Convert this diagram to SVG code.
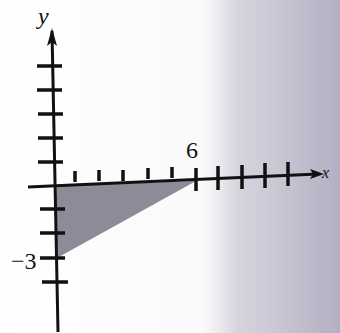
<svg xmlns="http://www.w3.org/2000/svg" width="340" height="333" viewBox="0 0 340 333">
<defs>
<linearGradient id="bg" x1="0" y1="0" x2="1" y2="0">
<stop offset="0" stop-color="#ffffff"/>
<stop offset="0.6" stop-color="#fafafb"/>
<stop offset="0.7" stop-color="#d6d5de"/>
<stop offset="1" stop-color="#b2b0c2"/>
</linearGradient>
<style>
.ax{stroke:#111;stroke-width:3;fill:none}
.tk{stroke:#111;stroke-width:3.5}
.lbl{font-family:"Liberation Serif",serif;fill:#111}
</style>
</defs>
<rect width="340" height="333" fill="url(#bg)"/>
<g id="region">
<polygon points="55,186 196,181 57,258" fill="#8e8b99"/>
</g>
<g id="axes">
<path class="ax" d="M58,332 L52,31"/>
<path d="M52,28 L47,46 L52,42 L57,46 Z" fill="#111"/>
<path class="ax" d="M28,187 L318,174"/>
<path d="M324,174 L310,169 L313,174 L310,179 Z" fill="#111"/>
</g>
<g id="ticks">
<path class="tk" d="M37,66 H62 M37,90 H62 M38,114 H63 M38,138 H63 M38,162 H63 M40,209 H65 M40,233 H65 M40,258 H65 M42,282 H68"/>
<path class="tk" d="M75,171 V182 M99,170 V181 M123,170 V181 M148,168 V179 M172,167 V178 M196,168 V191 M218,166 V190 M242,165 V189 M265,163 V188 M288,162 V186"/>
</g>
<g id="labels">
<text class="lbl" x="38" y="24" font-size="24" font-style="italic">y</text>
<text class="lbl" x="186" y="158" font-size="24">6</text>
<text class="lbl" x="11" y="269" font-size="24">−3</text>
<text class="lbl" x="322" y="178" font-size="16" font-style="italic">x</text>
</g>
</svg>
